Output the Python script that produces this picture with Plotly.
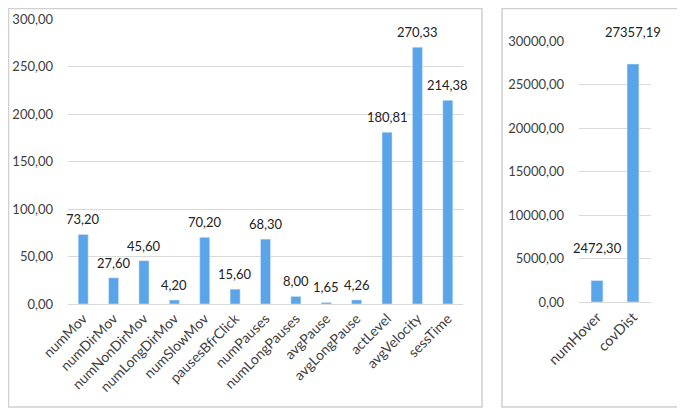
import plotly.graph_objects as go

left_cats = ["numMov", "numDirMov", "numNonDirMov", "numLongDirMov", "numSlowMov",
             "pausesBfrClick", "numPauses", "numLongPauses", "avgPause", "avgLongPause",
             "actLevel", "avgVelocity", "sessTime"]
left_vals = [73.20, 27.60, 45.60, 4.20, 70.20, 15.60, 68.30, 8.00, 1.65, 4.26,
             180.81, 270.33, 214.38]

right_cats = ["numHover", "covDist"]
right_vals = [2472.30, 27357.19]

BAR = "#5AA5EA"
TXT = "#404040"
GRID = "#D9D9D9"
FONT = "Lato"

def fmt(v):
    return f"{v:.2f}".replace(".", ",")

fig = go.Figure()
fig.add_trace(go.Bar(x=left_cats, y=left_vals, marker_color=BAR, xaxis="x", yaxis="y"))
fig.add_trace(go.Bar(x=right_cats, y=right_vals, marker_color=BAR, xaxis="x2", yaxis="y2"))

annotations = []
for c, v in zip(left_cats, left_vals):
    annotations.append(dict(x=c, y=v, xref="x", yref="y", text=fmt(v), showarrow=False,
                            yanchor="middle", yshift=15,
                            font=dict(size=13, color="#222222", family=FONT)))
for c, v in zip(right_cats, right_vals):
    annotations.append(dict(x=c, y=v, xref="x2", yref="y2", text=fmt(v), showarrow=False,
                            yanchor="middle", yshift=32,
                            font=dict(size=13, color="#222222", family=FONT)))

# page body has an 8px margin; work in screen pixels and convert
OFF = 8
W, H = 685 - OFF, 411 - OFF
def px(x): return (x - OFF) / W
def py(y): return (H - (y - OFF)) / H

fig.update_layout(
    width=W, height=H, margin=dict(l=0, r=0, t=0, b=0, autoexpand=False),
    paper_bgcolor="white", plot_bgcolor="white",
    showlegend=False, separators=",.", barmode="overlay", bargap=0.67,
    font=dict(family=FONT, size=13, color=TXT),
    annotations=annotations,
    xaxis=dict(domain=[px(68), px(463)], anchor="y", tickangle=-45, automargin=False,
               range=[-0.5, len(left_cats) - 0.5],
               showline=True, linecolor=GRID, ticks="", tickfont=dict(size=14, color=TXT)),
    yaxis=dict(domain=[py(304), py(19)], anchor="x", range=[0, 300], dtick=50, automargin=False,
               tickformat=".2f", showgrid=True, gridcolor=GRID, zeroline=False,
               ticklabelstandoff=14, tickfont=dict(size=13, color=TXT)),
    xaxis2=dict(domain=[px(579), px(651)], anchor="y2", tickangle=-45, automargin=False,
                range=[-0.5, len(right_cats) - 0.5],
                showline=True, linecolor=GRID, ticks="", tickfont=dict(size=14.5, color=TXT)),
    yaxis2=dict(domain=[py(302), py(41)], anchor="x2", range=[0, 30000], dtick=5000, automargin=False,
                tickformat=".2f", showgrid=True, gridcolor=GRID, zeroline=False,
                ticklabelstandoff=14, tickfont=dict(size=13, color=TXT)),
    shapes=[
        dict(type="rect", xref="paper", yref="paper", x0=0.5 / W, x1=px(482), y0=py(407), y1=1 - 0.5 / H,
             line=dict(color="#D0D0D0", width=1.5)),
        dict(type="rect", xref="paper", yref="paper", x0=px(502), x1=px(680), y0=py(407), y1=1 - 0.5 / H,
             line=dict(color="#D0D0D0", width=1.5)),
    ],
)

fig.write_html("out.html")
